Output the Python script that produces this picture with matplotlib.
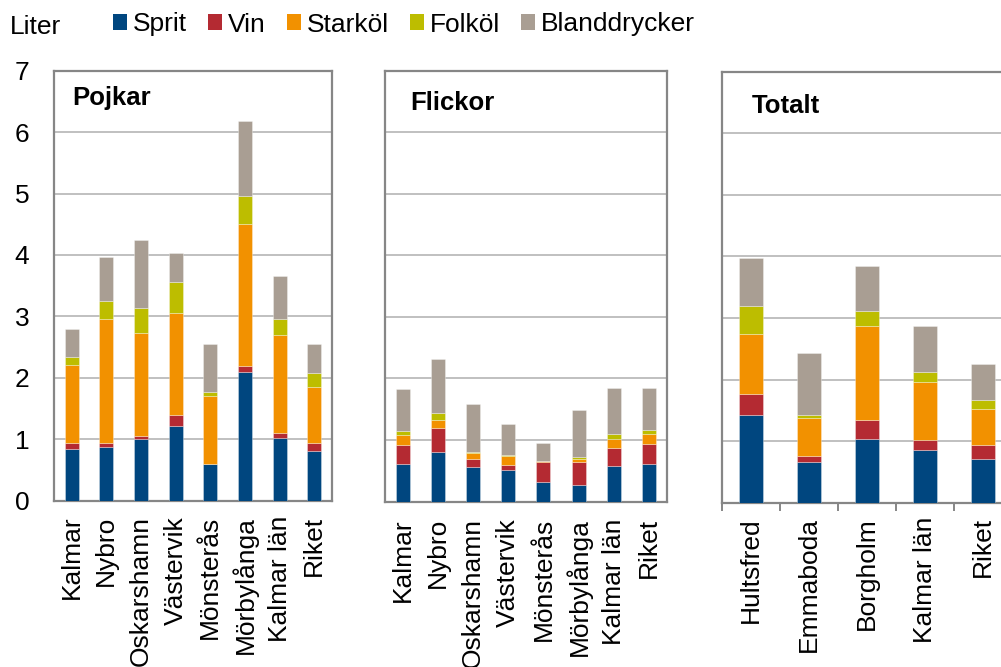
import matplotlib
matplotlib.use("Agg")
import matplotlib.pyplot as plt
import numpy as np
from matplotlib.patches import Patch

plt.rcParams['font.family'] = ['Liberation Sans', 'DejaVu Sans']

series = ['Sprit', 'Vin', 'Starköl', 'Folköl', 'Blanddrycker']
colors = ['#00467F', '#B42A32', '#F29100', '#BDBD00', '#A99E93']

pojkar_cats = ['Kalmar', 'Nybro', 'Oskarshamn', 'Västervik', 'Mönsterås', 'Mörbylånga', 'Kalmar län', 'Riket']
pojkar_sprit = [0.84, 0.87, 1.00, 1.21, 0.59, 2.09, 1.02, 0.80]
pojkar_vin = [0.09, 0.06, 0.05, 0.19, 0.01, 0.10, 0.08, 0.13]
pojkar_stark = [1.28, 2.02, 1.68, 1.66, 1.10, 2.32, 1.60, 0.92]
pojkar_folk = [0.13, 0.30, 0.41, 0.50, 0.07, 0.45, 0.25, 0.23]
pojkar_bland = [0.46, 0.71, 1.10, 0.47, 0.78, 1.22, 0.70, 0.47]

flickor_cats = ['Kalmar', 'Nybro', 'Oskarshamn', 'Västervik', 'Mönsterås', 'Mörbylånga', 'Kalmar län', 'Riket']
flickor_sprit = [0.61, 0.80, 0.56, 0.51, 0.31, 0.27, 0.58, 0.61]
flickor_vin = [0.30, 0.39, 0.13, 0.08, 0.33, 0.37, 0.29, 0.33]
flickor_stark = [0.17, 0.13, 0.10, 0.15, 0.01, 0.05, 0.15, 0.15]
flickor_folk = [0.06, 0.12, 0.02, 0.01, 0.01, 0.03, 0.07, 0.07]
flickor_bland = [0.69, 0.88, 0.77, 0.51, 0.29, 0.77, 0.76, 0.69]

totalt_cats = ['Hultsfred', 'Emmaboda', 'Borgholm', 'Kalmar län', 'Riket']
totalt_sprit = [1.42, 0.66, 1.04, 0.86, 0.71]
totalt_vin = [0.35, 0.10, 0.31, 0.17, 0.23]
totalt_stark = [0.97, 0.62, 1.52, 0.93, 0.58]
totalt_folk = [0.45, 0.04, 0.24, 0.17, 0.15]
totalt_bland = [0.79, 1.01, 0.74, 0.74, 0.58]

yticks = [0, 1, 2, 3, 4, 5, 6, 7]

W, H = 1001, 667
fig = plt.figure(figsize=(W / 100, H / 100), dpi=100)


def px_axes(left, top, right, bottom):
    return fig.add_axes([left / W, 1 - bottom / H, (right - left) / W, (bottom - top) / H])


SPINE = '#868686'
GRID = '#C0C0C0'
FS_X = 19
FS_Y = 19
FS_LEG = 19


def draw_panel(ax, cats, data, title, title_xy, show_y, boundary_ticks=False, label_pad=11):
    x = np.arange(len(cats))
    bottom = np.zeros(len(cats))
    for vals, c in zip(data, colors):
        vals = np.array(vals)
        ax.bar(x, vals, width=0.4, bottom=bottom, color=c,
               edgecolor=(1, 1, 1, 0.45), linewidth=0.5, zorder=3)
        bottom += vals
    ax.set_xlim(-0.5, len(cats) - 0.5)
    ax.set_ylim(0, 7)
    ax.set_yticks(yticks)
    ax.yaxis.grid(True, color=GRID, linewidth=1.4, zorder=0)
    ax.set_axisbelow(True)
    for s in ax.spines.values():
        s.set_color(SPINE)
        s.set_linewidth(1.6)
    ax.set_xticks(x)
    ax.set_xticklabels(cats, rotation=90, fontsize=FS_X, va='top', ha='center')
    ax.tick_params(axis='x', length=0, pad=label_pad)
    if boundary_ticks:
        ax.set_xticks(np.arange(len(cats) + 1) - 0.5, minor=True)
        ax.tick_params(axis='x', which='minor', length=6, width=1.4, color=SPINE, direction='out')
    if show_y:
        ax.tick_params(axis='y', length=0, pad=18, labelsize=FS_Y)
    else:
        ax.tick_params(axis='y', length=0, labelleft=False)
    fig.text(title_xy[0] / W, 1 - title_xy[1] / H, title, fontsize=18.5,
             fontweight='bold', ha='left', va='baseline')


ax1 = px_axes(54.3, 70.7, 331.7, 500.5)
draw_panel(ax1, pojkar_cats,
           [pojkar_sprit, pojkar_vin, pojkar_stark, pojkar_folk, pojkar_bland],
           'Pojkar', (72, 105), True, label_pad=11)

ax2 = px_axes(385, 70.7, 666.7, 501.5)
draw_panel(ax2, flickor_cats,
           [flickor_sprit, flickor_vin, flickor_stark, flickor_folk, flickor_bland],
           'Flickor', (410, 110), False, label_pad=12)

ax3 = px_axes(722, 71.5, 1012, 503)
draw_panel(ax3, totalt_cats,
           [totalt_sprit, totalt_vin, totalt_stark, totalt_folk, totalt_bland],
           'Totalt', (752, 113), False, boundary_ticks=True, label_pad=10)
ax3.spines['right'].set_visible(False)

fig.text(10 / W, 1 - 33.5 / H, 'Liter', fontsize=FS_LEG, ha='left', va='baseline')

handles = [Patch(facecolor=c, edgecolor='none', label=s) for s, c in zip(series, colors)]
fig.legend(handles=handles, loc='upper left', bbox_to_anchor=(113 / W, 1 - 12.5 / H),
           ncol=5, frameon=False, fontsize=FS_LEG, handlelength=0.53, handleheight=0.53,
           handletextpad=0.22, columnspacing=0.8, borderpad=0, borderaxespad=0)

fig.savefig('out.png', dpi=100)
